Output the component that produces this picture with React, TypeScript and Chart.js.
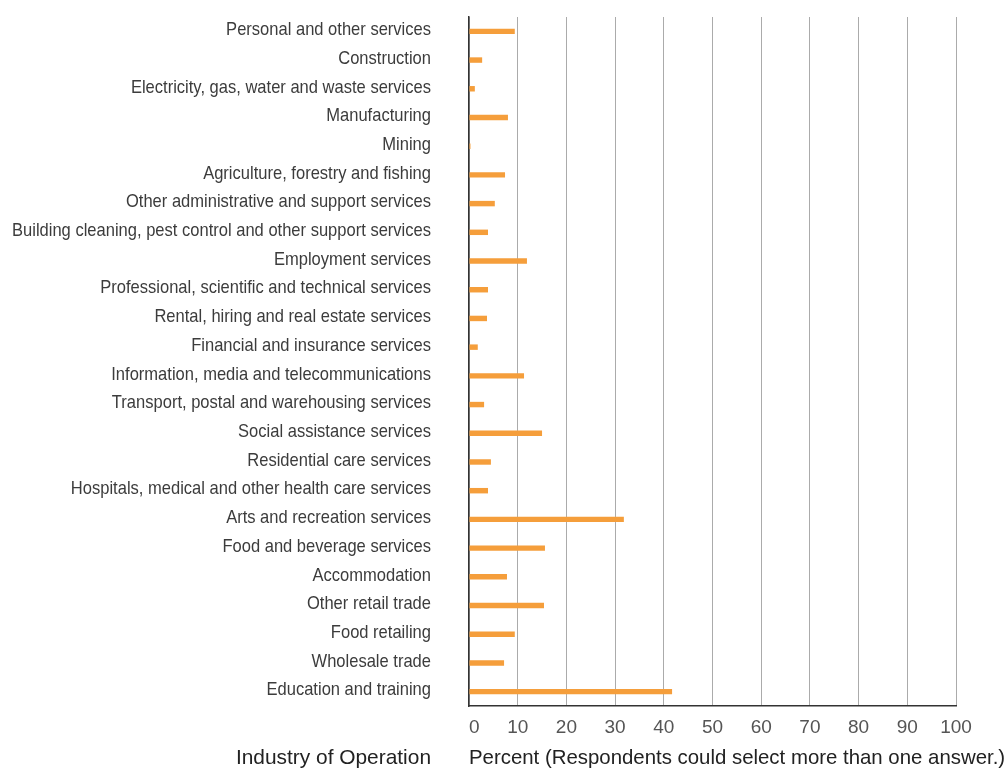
import React, { useEffect, useRef } from "react";
import { Chart, registerables } from "chart.js";

Chart.register(...registerables);

const categories: string[] = [
  "Personal and other services",
  "Construction",
  "Electricity, gas, water and waste services",
  "Manufacturing",
  "Mining",
  "Agriculture, forestry and fishing",
  "Other administrative and support services",
  "Building cleaning, pest control and other support services",
  "Employment services",
  "Professional, scientific and technical services",
  "Rental, hiring and real estate services",
  "Financial and insurance services",
  "Information, media and telecommunications",
  "Transport, postal and warehousing services",
  "Social assistance services",
  "Residential care services",
  "Hospitals, medical and other health care services",
  "Arts and recreation services",
  "Food and beverage services",
  "Accommodation",
  "Other retail trade",
  "Food retailing",
  "Wholesale trade",
  "Education and training",
];

const percentValues: number[] = [
  9.4, 2.7, 1.2, 8.0, 0.3, 7.4, 5.3, 3.9, 11.9, 3.9, 3.7, 1.8, 11.3, 3.1,
  15.0, 4.5, 3.9, 31.8, 15.6, 7.8, 15.4, 9.4, 7.2, 41.7,
];

const xTickValues: number[] = [0, 10, 20, 30, 40, 50, 60, 70, 80, 90, 100];

const xTitle = "Percent (Respondents could select more than one answer.)";
const yTitle = "Industry of Operation";

const sansFont = "'Liberation Sans', 'Helvetica', 'Arial', sans-serif";

const textPlugin = {
  id: "textPlugin",
  afterDraw(chart: any) {
    const { ctx, chartArea } = chart;
    const yScale = chart.scales.y;
    const xScale = chart.scales.x;
    const rightEdge = chartArea.left - 38;
    ctx.save();
    // category labels (condensed)
    ctx.font = `19px ${sansFont}`;
    ctx.fillStyle = "#3c3c3c";
    ctx.textAlign = "right";
    ctx.textBaseline = "middle";
    categories.forEach((label, i) => {
      const y = yScale.getPixelForTick(i) - 1.5;
      ctx.save();
      ctx.translate(rightEdge, y);
      ctx.scale(0.87, 1);
      ctx.fillText(label, 0, 0);
      ctx.restore();
    });
    // x tick labels
    ctx.font = `19px ${sansFont}`;
    ctx.fillStyle = "#555";
    xTickValues.forEach((v, i) => {
      ctx.textAlign = i === 0 ? "left" : "center";
      ctx.fillText(String(v), xScale.getPixelForValue(v), chartArea.bottom + 22);
    });
    // axis titles
    ctx.fillStyle = "#222";
    ctx.font = `20.9px ${sansFont}`;
    ctx.textAlign = "right";
    ctx.fillText(yTitle, rightEdge, 758);
    ctx.font = `20.4px ${sansFont}`;
    ctx.textAlign = "left";
    ctx.fillText(xTitle, chartArea.left, 758);
    ctx.restore();
  },
};

export default function App() {
  const canvasRef = useRef<HTMLCanvasElement | null>(null);

  useEffect(() => {
    document.body.style.margin = "0";
    const canvas = canvasRef.current;
    if (!canvas) return;
    const chart = new Chart(canvas, {
      type: "bar",
      data: {
        labels: categories,
        datasets: [
          {
            data: percentValues,
            backgroundColor: "#F59E3B",
            borderWidth: 0,
            categoryPercentage: 1,
            barPercentage: 0.19,
          },
        ],
      },
      options: {
        indexAxis: "y",
        animation: false,
        responsive: false,
        maintainAspectRatio: false,
        layout: { padding: { top: 17, right: 51, left: 0, bottom: 0 } },
        plugins: {
          legend: { display: false },
          tooltip: { enabled: false },
        },
        scales: {
          x: {
            type: "linear",
            min: 0,
            max: 100,
            afterBuildTicks(scale: any) {
              scale.ticks = xTickValues.map((v) => ({ value: v }));
            },
            afterFit(scale: any) {
              scale.height = 63;
              scale.paddingLeft = 0;
              scale.paddingRight = 0;
              scale.paddingTop = 0;
              scale.paddingBottom = 0;
            },
            grid: {
              color: "#ababab",
              lineWidth: 1,
              drawTicks: false,
            },
            border: { display: true, color: "#333", width: 1.5 },
            ticks: { display: false },
            title: { display: false },
          },
          y: {
            type: "category",
            afterFit(scale: any) {
              scale.width = 469;
              scale.paddingLeft = 0;
              scale.paddingRight = 0;
              scale.paddingTop = 0;
              scale.paddingBottom = 0;
            },
            grid: { display: false, drawTicks: false },
            border: { display: true, color: "#333", width: 1.5 },
            ticks: { display: false, autoSkip: false },
          },
        },
      },
      plugins: [textPlugin],
    } as any);
    return () => chart.destroy();
  }, []);

  return (
    <div style={{ width: 1007, height: 769, position: "relative" }}>
      <canvas ref={canvasRef} width={1007} height={769} style={{ width: 1007, height: 769, display: "block" }} />
    </div>
  );
}
